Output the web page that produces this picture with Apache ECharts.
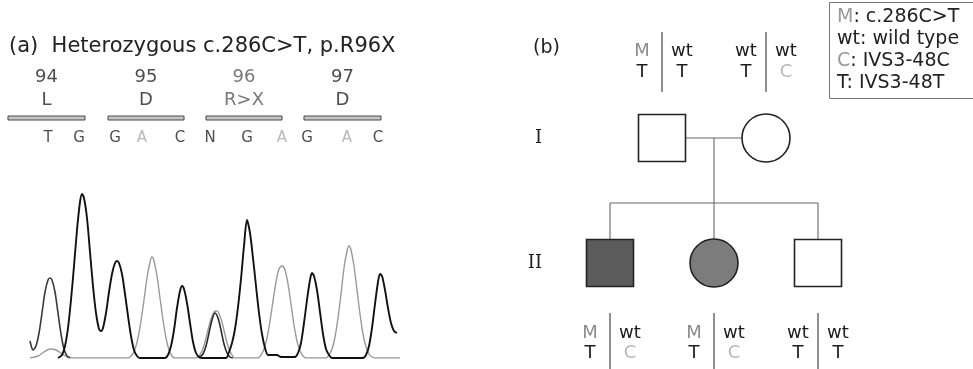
<!DOCTYPE html>
<html><head><meta charset="utf-8">
<script src="https://cdn.jsdelivr.net/npm/echarts@6/dist/echarts.min.js"></script>
<style>html,body{margin:0;padding:0;background:#fff}#c{width:973px;height:369px}</style>
</head><body><div id="c"></div>
<script>
// ---------- (a) sequencing trace data ----------
const codonNumbers = ['94', '95', '96', '97'];
const codonAminoAcids = ['L', 'D', 'R>X', 'D'];
const codonStart = [8, 108, 206, 304];      // trace position where each codon bar starts
const codonEnd = [85, 184, 282, 381];       // trace position where each codon bar ends
const baseCalls = ['T', 'G', 'G', 'A', 'C', 'N', 'G', 'A', 'G', 'A', 'C'];
const baseCallPos = [48, 79, 115, 142, 180, 210, 247, 282, 307, 347, 378];

// signal traces: [trace position, intensity]
const traceT = [[30,17],[31.5,11],[33,8],[36,12],[39,25],[42,45],[45,66],[48,78],[50,80],[52,78],[55,66],[58,45],[61,24],[64,9],[67,2],[70,0]];
const traceTn = [[199,0],[203,4],[206,12],[209,25],[212,38],[215,45],[218,40],[221,28],[224,14],[227,5],[230,1],[233,0]];
const traceGC = [[58,0],[62,3],[65,12],[68,30],[71,58],[74,92],[77,128],[80,156],[82,164],[84,160],[87,140],[90,106],[93,72],[96,45],[99,29],[101,27],[103,30],[106,45],[109,66],[112,84],[115,95],[117,97],[119,95],[122,84],[125,64],[128,42],[131,22],[134,8],[137,2],[140,0],[165,0],[168,3],[171,12],[174,28],[177,50],[180,67],[182,72],[184,69],[187,55],[190,35],[193,16],[196,5],[199,1],[202,0],[226,0],[229,6],[232,15],[235,29],[238,51],[241,79],[244,112],[247,138],[250,125],[253,100],[256,72],[259,45],[262,24],[265,10],[268,3],[272,3],[277,3],[281,1],[295,1],[298,5],[301,15],[304,35],[307,58],[310,78],[312,85],[314,82],[317,68],[320,46],[323,24],[326,9],[329,3],[332,0],[363,0],[366,3],[369,12],[372,30],[375,54],[378,76],[380,84],[382,82],[385,68],[388,50],[391,35],[394,27],[397,25]];
const traceA = [[30,0],[38,2],[44,6],[50,9],[56,8],[62,4],[68,1],[74,0],[128,0],[132,3],[135,9],[138,20],[141,37],[144,58],[147,80],[150,96],[152,101],[154,97],[157,82],[160,60],[163,38],[166,20],[169,8],[172,2],[175,0],[196,0],[199,2],[202,7],[205,16],[208,28],[211,39],[214,46],[217,47],[220,42],[223,32],[226,19],[229,9],[232,3],[235,0],[258,0],[261,3],[264,9],[267,20],[270,37],[273,57],[276,76],[279,89],[282,92],[285,88],[288,74],[291,54],[294,33],[297,17],[300,7],[303,2],[306,0],[326,0],[329,3],[332,9],[335,21],[338,40],[341,64],[344,90],[347,107],[349,112],[351,108],[354,92],[357,68],[360,44],[363,24],[366,11],[369,4],[372,1],[375,0],[400,0]];

// ---------- (b) pedigree data ----------
const generationLabels = ['I', 'II'];
const indivGen = [1, 1, 2, 2, 2];
const indivPos = [0.5, 1.5, 0, 1, 2];
const indivSex = ['M', 'F', 'M', 'F', 'M'];
const indivAffected = [0, 0, 2, 1, 0];
const allele1 = ['M', 'wt', 'M', 'M', 'wt'];
const allele2 = ['wt', 'wt', 'wt', 'wt', 'wt'];
const marker1 = ['T', 'T', 'T', 'T', 'T'];
const marker2 = ['T', 'C', 'C', 'C', 'T'];
const legendLines = ['{g|M}: c.286C>T', 'wt: wild type', '{g|C}: IVS3-48C', 'T: IVS3-48T'];

// ---------- build ----------
const FONT = 'DejaVu Sans';
const ROW_NUM = 281, ROW_AA = 258, ROW_BAR = 240, ROW_BASE = 220;
const codonMid = codonStart.map((s, i) => (s + codonEnd[i]) / 2);
const SIB = 1.52;
const father = 0, mother = 1;
const children = [2, 3, 4];
const segs = [
  [indivPos[father], 1, indivPos[mother], 1],
  [(indivPos[father] + indivPos[mother]) / 2, 1, (indivPos[father] + indivPos[mother]) / 2, SIB],
  [Math.min(...children.map(c => indivPos[c])), SIB, Math.max(...children.map(c => indivPos[c])), SIB]
].concat(children.map(c => [indivPos[c], SIB, indivPos[c], indivGen[c]]));

const colorOf = t => t === 'M' ? '#8c8c8c' : (t === 'C' ? '#b8b8b8' : '#1c1c1c');
const fillOf = a => a === 2 ? '#5c5c5c' : (a === 1 ? '#7c7c7c' : '#ffffff');

const chart = echarts.init(document.getElementById('c'));
chart.setOption({
  animation: false,
  backgroundColor: '#ffffff',
  title: [
    { text: '(a)  Heterozygous c.286C>T, p.R96X', left: 4, top: 31, textStyle: { fontFamily: FONT, fontSize: 21, fontWeight: 'normal', color: '#222' } },
    { text: '(b)', left: 528, top: 34, textStyle: { fontFamily: FONT, fontSize: 19, fontWeight: 'normal', color: '#222' } },
    { text: legendLines.join('\n'), left: 829, top: 2, borderColor: '#777', borderWidth: 1, padding: [4, 20, 5, 8],
      textStyle: { fontFamily: FONT, fontSize: 19, lineHeight: 22, fontWeight: 'normal', color: '#222',
        rich: { g: { fontFamily: FONT, fontSize: 19, lineHeight: 22, color: '#999' } } } }
  ],
  grid: [
    { left: 0, top: 60, width: 420, bottom: 11 },
    { left: 558, top: 13, width: 312, height: 312.5 }
  ],
  xAxis: [
    { gridIndex: 0, type: 'value', min: 0, max: 420, show: false },
    { gridIndex: 1, type: 'value', min: -0.5, max: 2.5, show: false }
  ],
  yAxis: [
    { gridIndex: 0, type: 'value', min: 0, max: 298, show: false },
    { gridIndex: 1, type: 'value', inverse: true, min: 0, max: 2.5, interval: 1,
      axisLine: { show: false }, axisTick: { show: false }, splitLine: { show: false },
      axisLabel: { margin: 16, fontFamily: 'DejaVu Serif', fontSize: 18, color: '#222',
        formatter: v => (Number.isInteger(v) && v >= 1 && v <= generationLabels.length) ? generationLabels[v - 1] : '' } }
  ],
  series: [
    { name: 'A', type: 'line', xAxisIndex: 0, yAxisIndex: 0, data: traceA, smooth: 0.3, showSymbol: false,
      lineStyle: { color: '#9a9a9a', width: 1.4 }, z: 2 },
    { name: 'T', type: 'line', xAxisIndex: 0, yAxisIndex: 0, data: traceT, smooth: 0.3, showSymbol: false,
      lineStyle: { color: '#3a3a3a', width: 1.6 }, z: 3 },
    { name: 'T (N)', type: 'line', xAxisIndex: 0, yAxisIndex: 0, data: traceTn, smooth: 0.3, showSymbol: false,
      lineStyle: { color: '#2a2a2a', width: 1.6 }, z: 3 },
    { name: 'G/C', type: 'line', xAxisIndex: 0, yAxisIndex: 0, data: traceGC, smooth: 0.3, showSymbol: false,
      lineStyle: { color: '#111', width: 1.9 }, z: 4 },
    { name: 'codon bars', type: 'custom', xAxisIndex: 0, yAxisIndex: 0,
      data: codonStart.map((s, i) => [s, codonEnd[i], ROW_BAR]),
      renderItem: (p, api) => {
        const a = api.coord([api.value(0), api.value(2)]);
        const b = api.coord([api.value(1), api.value(2)]);
        return { type: 'rect', shape: { x: a[0], y: a[1] - 2, width: b[0] - a[0], height: 4 },
          style: { fill: '#c4c4c4', stroke: '#4a4a4a', lineWidth: 1 } };
      } },
    { name: 'codon numbers', type: 'scatter', xAxisIndex: 0, yAxisIndex: 0, symbolSize: 0, silent: true,
      data: codonNumbers.map((t, i) => ({ value: [codonMid[i], ROW_NUM], name: t,
        label: { color: i === 2 ? '#555' : '#222' } })),
      label: { show: true, position: 'inside', formatter: p => p.name, fontFamily: FONT, fontSize: 18, color: '#222' } },
    { name: 'amino acids', type: 'scatter', xAxisIndex: 0, yAxisIndex: 0, symbolSize: 0, silent: true,
      data: codonAminoAcids.map((t, i) => ({ value: [codonMid[i], ROW_AA], name: t,
        label: { color: t.indexOf('>') >= 0 ? '#555' : '#222' } })),
      label: { show: true, position: 'inside', formatter: p => p.name, fontFamily: FONT, fontSize: 18, color: '#222' } },
    { name: 'base calls', type: 'scatter', xAxisIndex: 0, yAxisIndex: 0, symbolSize: 0, silent: true,
      data: baseCalls.map((t, i) => ({ value: [baseCallPos[i], ROW_BASE], name: t,
        label: { color: t === 'A' ? '#a8a8a8' : '#222' } })),
      label: { show: true, position: 'inside', formatter: p => p.name, fontFamily: FONT, fontSize: 15, color: '#222' } },
    { name: 'pedigree lines', type: 'custom', xAxisIndex: 1, yAxisIndex: 1, data: segs, z: 1,
      renderItem: (p, api) => {
        const a = api.coord([api.value(0), api.value(1)]);
        const b = api.coord([api.value(2), api.value(3)]);
        return { type: 'line', shape: { x1: a[0], y1: a[1], x2: b[0], y2: b[1] }, style: { stroke: '#666', lineWidth: 1.1 } };
      } },
    { name: 'individuals', type: 'scatter', xAxisIndex: 1, yAxisIndex: 1, z: 5,
      data: indivPos.map((x, i) => ({ value: [x, indivGen[i]],
        symbol: indivSex[i] === 'M' ? 'rect' : 'circle',
        symbolSize: indivSex[i] === 'M' ? 47 : 48,
        itemStyle: { color: fillOf(indivAffected[i]), borderColor: '#222', borderWidth: 1.6, opacity: 1 } })) },
    { name: 'genotypes', type: 'custom', xAxisIndex: 1, yAxisIndex: 1, z: 6,
      data: indivPos.map((x, i) => [x, indivGen[i], i]),
      renderItem: (p, api) => {
        const i = api.value(2);
        const c = api.coord([api.value(0), api.value(1)]);
        const up = indivGen[i] === 1;
        const yA = up ? c[1] - 87 : c[1] + 70, yB = up ? c[1] - 66 : c[1] + 90;
        const l0 = up ? c[1] - 106 : c[1] + 50, l1 = up ? c[1] - 46 : c[1] + 106;
        const dx = 20;
        const txt = (t, x, y) => ({ type: 'text', style: { text: t, x: x, y: y, align: 'center', verticalAlign: 'middle',
          fill: colorOf(t), fontFamily: FONT, fontSize: 18 } });
        return { type: 'group', children: [
          { type: 'line', shape: { x1: c[0], y1: l0, x2: c[0], y2: l1 }, style: { stroke: '#444', lineWidth: 1.2 } },
          txt(allele1[i], c[0] - dx, yA), txt(allele2[i], c[0] + dx, yA),
          txt(marker1[i], c[0] - dx, yB), txt(marker2[i], c[0] + dx, yB)
        ] };
      } }
  ]
});
</script></body></html>
